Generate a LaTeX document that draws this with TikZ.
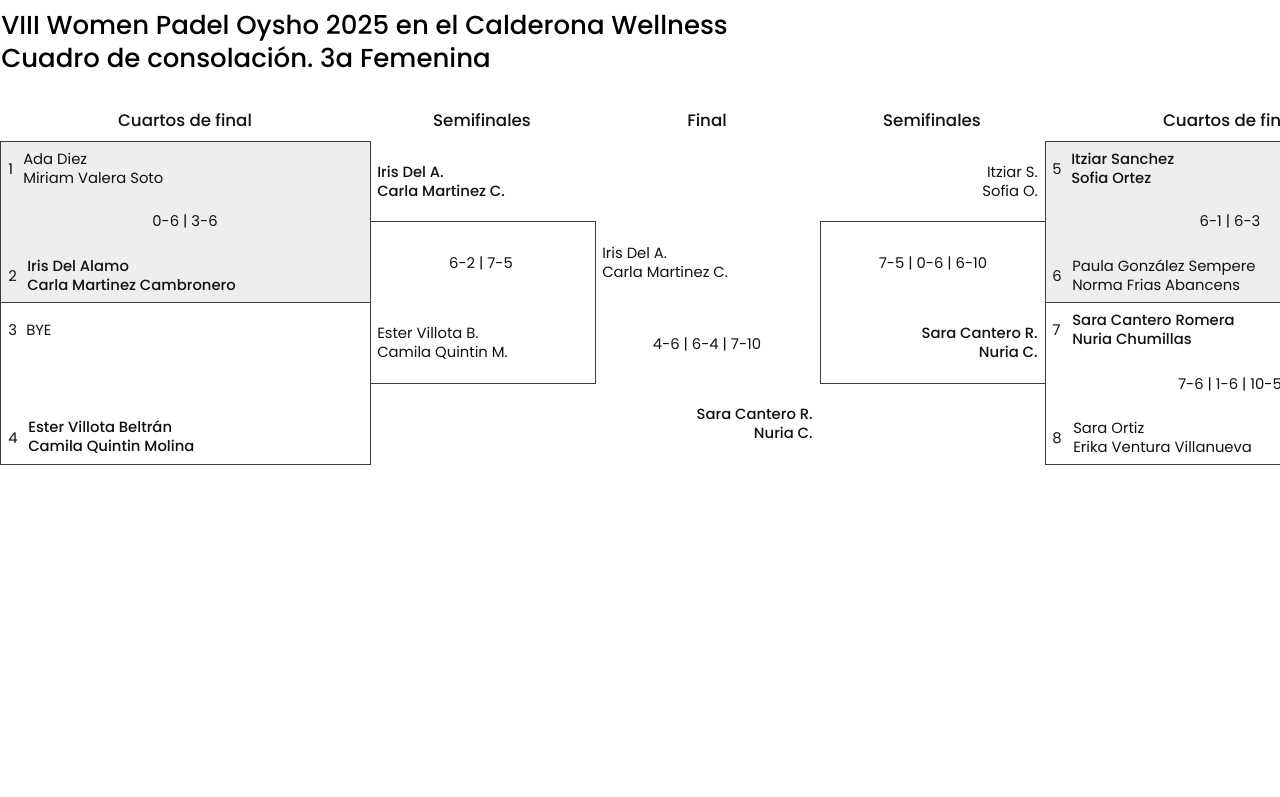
\documentclass[tikz,border=0pt]{standalone}
\usepackage{fontspec}
\setmainfont{Poppins}[BoldFont={Poppins Medium}]
\usepackage{tikz}
\usetikzlibrary{calc}
\frenchspacing

\definecolor{boxgrey}{HTML}{EEEEEE}
\definecolor{linegrey}{HTML}{3C3C3C}
\definecolor{inkgrey}{HTML}{111111}

\tikzset{
  matchbox/.style={draw=linegrey, line width=0.75pt},
  seedbox/.style={matchbox, fill=boxgrey},
  txt/.style={inner sep=0pt, text=inkgrey, font=\fontsize{11.1}{14.25}\selectfont},
  team/.style={txt, anchor=west, align=left},
  teamr/.style={txt, anchor=east, align=right},
  seed/.style={txt, anchor=west},
  score/.style={txt},
  round/.style={inner sep=0pt, text=inkgrey, font=\fontsize{12.5}{15}\selectfont\bfseries},
  headline/.style={inner sep=0pt, anchor=west, align=left, text=black, font=\fontsize{19.5}{24.75}\selectfont\bfseries}
}

\begin{document}
\begin{tikzpicture}[x=0.75pt,y=-0.75pt]
  \path[use as bounding box, clip] (0,0) rectangle (1280,796);

  \node[headline] (title) at (1,41) {VIII Women Padel Oysho 2025 en el Calderona Wellness\\Cuadro de consolación. 3a Femenina};

  % rounds
  \foreach \x/\r [count=\i] in {185/Cuartos de final, 482/Semifinales, 707/Final, 932/Semifinales, 1230/Cuartos de final}
    {\node[round] (round-\i) at (\x,120) {\r};}

  % match boxes
  \draw[seedbox]  (0,141)    rectangle (370,302);
  \draw[matchbox] (0,302)    rectangle (370,464);
  \draw[matchbox] (370,221)  rectangle (595,383);
  \draw[matchbox] (820,221)  rectangle (1045,383);
  \draw[seedbox]  (1045,141) rectangle (1415,302);
  \draw[matchbox] (1045,302) rectangle (1415,464);

  % left quarter finals
  \node[seed] (s1) at (8,169)  {1};
  \node[team] (t1) at (23,168) {Ada Diez\\Miriam Valera Soto};
  \node[score] (q1) at (185,221) {0-6 | 3-6};
  \node[seed] (s2) at (8,276)  {2};
  \node[team] (t2) at (27,275) {\bfseries Iris Del Alamo\\\bfseries Carla Martinez Cambronero};
  \node[seed] (s3) at (8,330)  {3};
  \node[seed] (t3) at (26,330) {BYE};
  \node[seed] (s4) at (8,438)  {4};
  \node[team] (t4) at (28,437) {\bfseries Ester Villota Beltrán\\\bfseries Camila Quintin Molina};

  % left semifinal
  \node[team] (l1) at (377,181) {\bfseries Iris Del A.\\\bfseries Carla Martinez C.};
  \node[score] (q5) at (481,263) {6-2 | 7-5};
  \node[team] (l2) at (377,343) {Ester Villota B.\\Camila Quintin M.};

  % final
  \node[team] (f1) at (602,262) {Iris Del A.\\Carla Martinez C.};
  \node[score] (q7) at (707,344) {4-6 | 6-4 | 7-10};
  \node[teamr] (f2) at (813,424) {\bfseries Sara Cantero R.\\\bfseries Nuria C.};

  % right semifinal
  \node[teamr] (r1) at (1038,181) {Itziar S.\\Sofia O.};
  \node[score] (q6) at (933,263) {7-5 | 0-6 | 6-10};
  \node[teamr] (r2) at (1038,343) {\bfseries Sara Cantero R.\\\bfseries Nuria C.};

  % right quarter finals
  \node[seed] (s5) at (1052,169)  {5};
  \node[team] (t5) at (1071,168) {\bfseries Itziar Sanchez\\\bfseries Sofia Ortez};
  \node[score] (q3) at (1230,221) {6-1 | 6-3};
  \node[seed] (s6) at (1052,276)  {6};
  \node[team] (t6) at (1072,275) {Paula González Sempere\\Norma Frias Abancens};
  \node[seed] (s7) at (1052,330)  {7};
  \node[team] (t7) at (1072,330) {\bfseries Sara Cantero Romera\\\bfseries Nuria Chumillas};
  \node[score] (q4) at (1230,384) {7-6 | 1-6 | 10-5};
  \node[seed] (s8) at (1052,438)  {8};
  \node[team] (t8) at (1073,437) {Sara Ortiz\\Erika Ventura Villanueva};
\end{tikzpicture}
\end{document}
